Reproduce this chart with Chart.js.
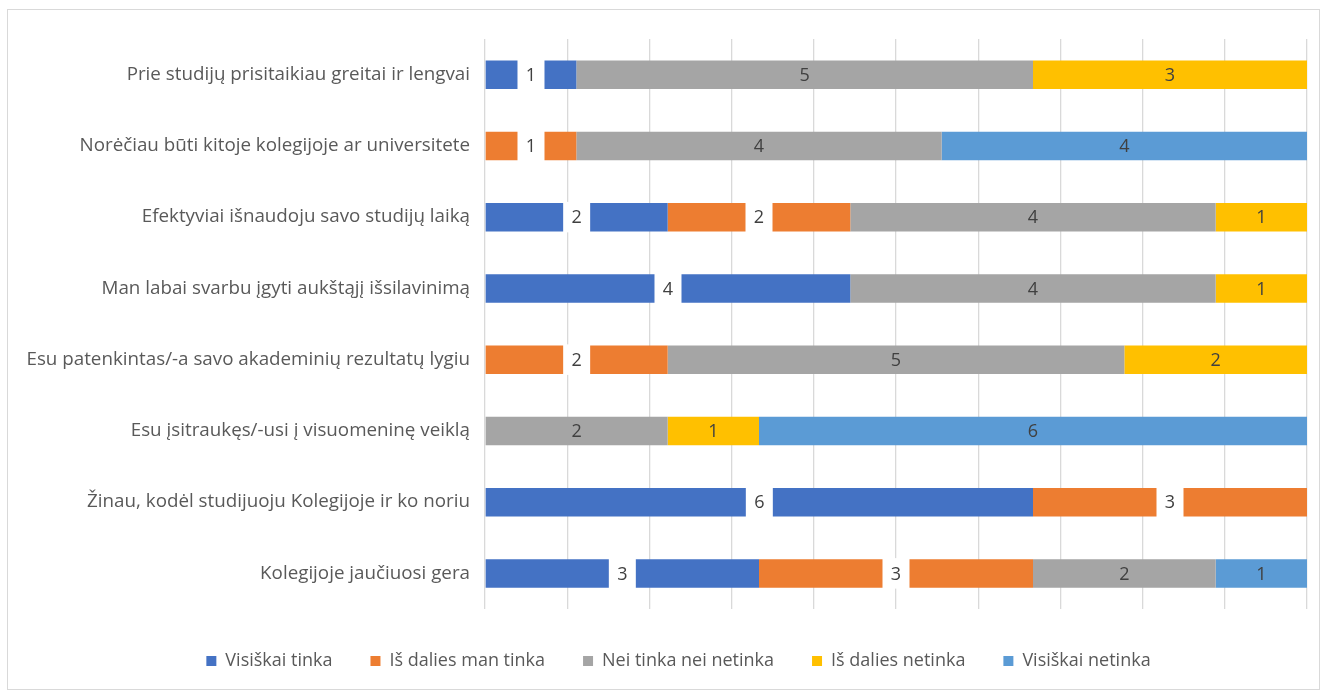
<!DOCTYPE html>
<html>
<head>
<meta charset="utf-8">
<script src="https://cdn.jsdelivr.net/npm/chart.js@4.4.0/dist/chart.umd.min.js"></script>
<style>
    html, body { margin: 0; padding: 0; background: #fff; }
    #frame {
        position: absolute; left: 7px; top: 9px;
        width: 1313px; height: 681px;
        border: 1.3px solid #d9d9d9; box-sizing: border-box;
    }
    #chart { position: absolute; left: 0; top: 0; }
</style>
</head>
<body>
<div id="frame"></div>
<canvas id="chart" width="1329" height="696"></canvas>
<script>
// Categories, top to bottom
const categories = [
    'Prie studijų prisitaikiau greitai ir lengvai',
    'Norėčiau būti kitoje kolegijoje ar universitete',
    'Efektyviai išnaudoju savo studijų laiką',
    'Man labai svarbu įgyti aukštąjį išsilavinimą',
    'Esu patenkintas/-a savo akademinių rezultatų lygiu',
    'Esu įsitraukęs/-usi į visuomeninę veiklą',
    'Žinau, kodėl studijuoju Kolegijoje ir ko noriu',
    'Kolegijoje jaučiuosi gera'
];

const seriesNames = ['Visiškai tinka', 'Iš dalies man tinka', 'Nei tinka nei netinka', 'Iš dalies netinka', 'Visiškai netinka'];

// Values per series, same order as categories
const visiskaiTinka   = [1, 0, 2, 4, 0, 0, 6, 3];
const isDaliesTinka   = [0, 1, 2, 0, 2, 0, 3, 3];
const neiTinka        = [5, 4, 4, 4, 5, 2, 0, 2];
const isDaliesNetinka = [3, 0, 1, 1, 2, 1, 0, 0];
const visiskaiNetinka = [0, 4, 0, 0, 0, 6, 0, 1];

const seriesColors = ['#4472C4', '#ED7D31', '#A5A5A5', '#FFC000', '#5B9BD5'];
const seriesValues = [visiskaiTinka, isDaliesTinka, neiTinka, isDaliesNetinka, visiskaiNetinka];

const FONT = "'Open Sans', 'Liberation Sans', sans-serif";

// labels in the middle of each segment; first two series get a white box
const segmentLabels = {
    id: 'segmentLabels',
    afterDatasetsDraw(chart) {
        const ctx = chart.ctx;
        ctx.save();
        ctx.font = '18px ' + FONT;
        ctx.textAlign = 'center';
        ctx.textBaseline = 'middle';
        chart.data.datasets.forEach((ds, di) => {
            const meta = chart.getDatasetMeta(di);
            meta.data.forEach((bar, i) => {
                const v = ds.data[i];
                if (!v) return;
                const cx = (bar.x + bar.base) / 2;
                if (di < 2) {
                    ctx.fillStyle = '#ffffff';
                    ctx.fillRect(cx - 13.5, bar.y - bar.height / 2 - 1, 27, bar.height + 2);
                }
                ctx.fillStyle = '#404040';
                ctx.fillText(String(v), cx, bar.y + 1);
            });
        });
        ctx.restore();
    }
};

// legend in the reference sits a bit right of the canvas centre
const legendShift = {
    id: 'legendShift',
    afterLayout(chart) {
        if (chart.legend) {
            chart.legend.left += 25;
            chart.legend.right += 25;
        }
    }
};

new Chart(document.getElementById('chart'), {
    type: 'bar',
    data: {
        labels: categories,
        datasets: seriesNames.map((name, k) => ({
            label: name,
            data: seriesValues[k],
            backgroundColor: seriesColors[k],
            borderWidth: 0,
            barPercentage: 0.4,
            categoryPercentage: 1
        }))
    },
    options: {
        indexAxis: 'y',
        responsive: false,
        animation: false,
        layout: { padding: { left: 0, right: 22, top: 39, bottom: 16 } },
        scales: {
            x: {
                stacked: true,
                min: 0,
                max: 9,
                ticks: { display: false, stepSize: 0.9 },
                grid: { color: '#d9d9d9', lineWidth: 1.3, drawTicks: false },
                border: { display: false },
                afterFit(scale) { scale.height = 5; }
            },
            y: {
                stacked: true,
                grid: { display: false, drawTicks: false },
                border: { display: false },
                ticks: {
                    color: '#595959',
                    padding: 15,
                    font: { family: FONT, size: 18.8 }
                },
                afterFit(scale) { scale.width = 485; }
            }
        },
        plugins: {
            legend: {
                position: 'bottom',
                labels: {
                    boxWidth: 10,
                    boxHeight: 10,
                    padding: 38,
                    color: '#595959',
                    font: { family: FONT, size: 18 }
                }
            },
            tooltip: { enabled: false }
        }
    },
    plugins: [segmentLabels, legendShift]
});
</script>
</body>
</html>
